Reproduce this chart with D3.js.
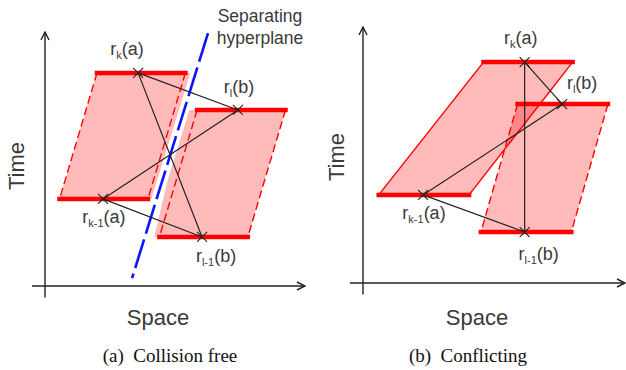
<!DOCTYPE html>
<html>
<head>
<meta charset="utf-8">
<style>
    body { margin: 0; background: #fff; }
    svg { display: block; }
    .lbl { font-family: 'Liberation Sans', Arial, sans-serif; fill: #3a3a3a; }
    .axis-title { font-family: 'Liberation Sans', Arial, sans-serif; font-size: 22px; fill: #3a3a3a; }
    .caption { font-family: 'Liberation Serif', 'Times New Roman', serif; font-size: 19px; fill: #111; }
</style>
</head>
<body>
<svg width="626" height="370"></svg>
<script src="https://d3js.org/d3.v7.min.js"></script>
<script>
// ---- data (axis units 0..100) ----
const captions = ["(a)\u00a0\u00a0Collision free", "(b)\u00a0\u00a0Conflicting"];
const axisTitles = ["Space", "Time"];
// point labels: base letter, subscript, argument
const pointNames = [["r", "k", "(a)"], ["r", "k-1", "(a)"], ["r", "l", "(b)"], ["r", "l-1", "(b)"]];

// [space, time] of r_k(a), r_k-1(a), r_l(b), r_l-1(b)
const pointsA = [[35.8, 83.9], [22.3, 34.3], [74.2, 69.3], [60.4, 19.3]];
const pointsB = [[61.7, 86.3], [22.9, 34.4], [76.0, 69.9], [61.7, 19.9]];

// reachable regions: [topLo, topHi, topTime, botLo, botHi, botTime]
const regionsA = [[20, 54, 83.9, 5.6, 39.6, 34.3], [58.5, 92.5, 69.3, 44, 78, 19.3]];
const regionsB = [[46, 80, 86.3, 6, 40.5, 34.4], [59, 93.5, 69.9, 45, 79.5, 19.9]];

// segments between points (indices)
const links = [[0, 2], [0, 3], [1, 2], [1, 3]];

// separating hyperplane (only panel a)
const hyperplaneA = [[33.5, 3.1], [62.7, 99.6]];

// ---- layout ----
const panels = [
    { ox: 45, oy: 286, w: 260, h: 254, points: pointsA, regions: regionsA, plane: hyperplaneA,
      edge: ["dash", "dash"], capX: 170, spaceX: 158, timeX: 24, timeY: 166,
      offs: [[-11, -18], [1, 24], [1, -17], [14, 25]] },
    { ox: 363, oy: 283, w: 262, h: 256, points: pointsB, regions: regionsB, plane: null,
      edge: ["solid", "dash"], capX: 468, spaceX: 477, timeX: 344, timeY: 157,
      offs: [[-4, -18], [1, 24], [20, -15], [14, 28]] }
];

const svg = d3.select("svg");

svg.append("defs").append("marker")
    .attr("id", "arrow")
    .attr("viewBox", "0 0 10 10")
    .attr("refX", 9).attr("refY", 5)
    .attr("markerWidth", 10).attr("markerHeight", 10)
    .attr("markerUnits", "userSpaceOnUse")
    .attr("orient", "auto")
    .append("path")
    .attr("d", "M1,1 L9,5 L1,9")
    .attr("fill", "none")
    .attr("stroke", "#222")
    .attr("stroke-width", 1.4);

panels.forEach(p => {
    let x = d3.scaleLinear().domain([0, 100]).range([p.ox, p.ox + p.w]);
    let y = d3.scaleLinear().domain([0, 100]).range([p.oy, p.oy - p.h]);
    let g = svg.append("g");

    // axes
    g.append("line")
        .attr("x1", x(-5)).attr("x2", x(100))
        .attr("y1", y(0)).attr("y2", y(0))
        .attr("stroke", "#222").attr("stroke-width", 1.4)
        .attr("marker-end", "url(#arrow)");
    g.append("line")
        .attr("x1", x(0)).attr("x2", x(0))
        .attr("y1", y(-4.5)).attr("y2", y(100))
        .attr("stroke", "#222").attr("stroke-width", 1.4)
        .attr("marker-end", "url(#arrow)");

    // space position of the hyperplane at a given time
    let planeAt = t => {
        let a = p.plane[0], b = p.plane[1];
        return a[0] + (b[0] - a[0]) * (t - a[1]) / (b[1] - a[1]);
    };

    // region fills (in panel a the shading runs up to the hyperplane)
    let corners = (r, i) => {
        if (p.plane && i == 0) {
            return [[r[0], r[2]], [Math.min(planeAt(r[2]) - 1.5, r[1] + 2), r[2]], [planeAt(r[5]), r[5]], [r[3], r[5]]];
        }
        if (p.plane && i == 1) {
            return [[planeAt(r[2]), r[2]], [r[1], r[2]], [r[4], r[5]], [Math.max(planeAt(r[5]) + 1.5, r[3] - 2), r[5]]];
        }
        return [[r[0], r[2]], [r[1], r[2]], [r[4], r[5]], [r[3], r[5]]];
    };

    g.selectAll("polygon.fill")
        .data(p.regions)
        .join("polygon")
        .attr("class", "fill")
        .attr("points", (r, i) => corners(r, i).map(d => [x(d[0]), y(d[1])].join(",")).join(" "))
        .attr("fill", "#ff0000")
        .attr("fill-opacity", 0.27);

    // white band around the hyperplane
    if (p.plane) {
        let pl = p.plane;
        g.append("line")
            .attr("x1", x(pl[0][0])).attr("y1", y(pl[0][1]))
            .attr("x2", x(pl[1][0])).attr("y2", y(pl[1][1]))
            .attr("stroke", "#fff").attr("stroke-width", 10);
    }

    // side edges
    p.regions.forEach((r, i) => {
        [[r[0], r[2], r[3], r[5]], [r[1], r[2], r[4], r[5]]].forEach(e => {
            g.append("line")
                .attr("x1", x(e[0])).attr("y1", y(e[1]))
                .attr("x2", x(e[2])).attr("y2", y(e[3]))
                .attr("stroke", "#ff0000")
                .attr("stroke-width", 1.4)
                .attr("stroke-dasharray", p.edge[i] == "dash" ? "8,4" : null);
        });
    });

    // top/bottom bars
    p.regions.forEach(r => {
        [[r[0], r[1], r[2]], [r[3], r[4], r[5]]].forEach(b => {
            g.append("line")
                .attr("x1", x(b[0])).attr("x2", x(b[1]))
                .attr("y1", y(b[2])).attr("y2", y(b[2]))
                .attr("stroke", "#ff0000")
                .attr("stroke-width", 4.5)
                .attr("stroke-linecap", "square");
        });
    });

    // separating hyperplane
    if (p.plane) {
        let pl = p.plane;
        g.append("line")
            .attr("x1", x(pl[1][0])).attr("y1", y(pl[1][1]))
            .attr("x2", x(pl[0][0])).attr("y2", y(pl[0][1]))
            .attr("stroke", "#0a14ff").attr("stroke-width", 2.6)
            .attr("stroke-dasharray", "30,6");
    }

    // links
    g.selectAll("line.link")
        .data(links)
        .join("line")
        .attr("class", "link")
        .attr("x1", d => x(p.points[d[0]][0])).attr("y1", d => y(p.points[d[0]][1]))
        .attr("x2", d => x(p.points[d[1]][0])).attr("y2", d => y(p.points[d[1]][1]))
        .attr("stroke", "#222").attr("stroke-width", 1.2);

    // X markers
    let s = 5;
    g.selectAll("path.mark")
        .data(p.points)
        .join("path")
        .attr("class", "mark")
        .attr("d", d => {
            let cx = x(d[0]), cy = y(d[1]);
            return `M${cx - s},${cy - s}L${cx + s},${cy + s}M${cx - s},${cy + s}L${cx + s},${cy - s}`;
        })
        .attr("stroke", "#222").attr("stroke-width", 1.1).attr("fill", "none");

    // point labels
    pointNames.forEach((n, i) => {
        let pt = p.points[i];
        let t = g.append("text")
            .attr("class", "lbl")
            .attr("x", x(pt[0]) + p.offs[i][0])
            .attr("y", y(pt[1]) + p.offs[i][1])
            .attr("text-anchor", "middle")
            .style("font-size", "18px");
        t.append("tspan").text(n[0]);
        t.append("tspan").attr("dy", 4).style("font-size", "11px").text(n[1]);
        t.append("tspan").attr("dy", -4).text(n[2]);
    });

    // axis titles
    g.append("text")
        .attr("class", "axis-title")
        .attr("x", p.spaceX).attr("y", 325)
        .attr("text-anchor", "middle")
        .text(axisTitles[0]);
    g.append("text")
        .attr("class", "axis-title")
        .attr("transform", `translate(${p.timeX},${p.timeY}) rotate(-90)`)
        .attr("text-anchor", "middle")
        .text(axisTitles[1]);
});

// hyperplane label
let hp = svg.append("text").attr("class", "lbl").style("font-size", "17.5px").attr("text-anchor", "middle");
hp.append("tspan").attr("x", 260).attr("y", 22).text("Separating");
hp.append("tspan").attr("x", 260).attr("y", 44).text("hyperplane");

// captions
svg.selectAll("text.caption")
    .data(captions)
    .join("text")
    .attr("class", "caption")
    .attr("x", (d, i) => panels[i].capX)
    .attr("y", 362)
    .attr("text-anchor", "middle")
    .text(d => d);
</script>
</body>
</html>
